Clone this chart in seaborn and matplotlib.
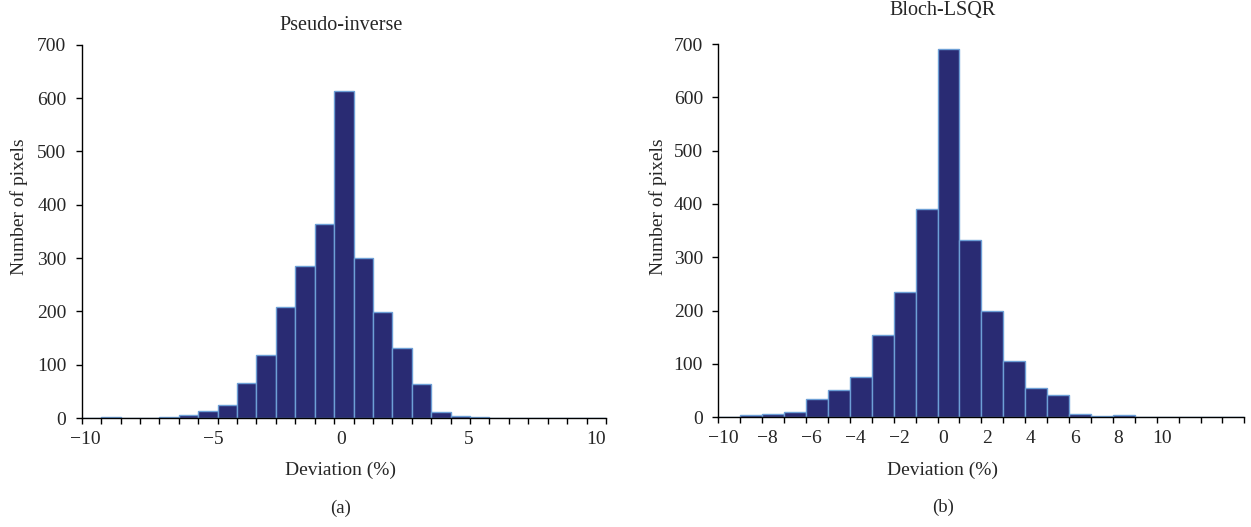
import numpy as np
import pandas as pd
import seaborn as sns
import matplotlib.pyplot as plt
from matplotlib.ticker import FixedLocator, NullFormatter

# histogram counts
# (a) Pseudo-inverse: 27 equal bins spanning the axis
pinv_range = (-10.14, 10.38)
pinv_counts = [0, 1, 0, 0, 2, 5, 13, 25, 66, 118, 209, 286, 363, 613,
               300, 198, 132, 63, 12, 4, 2, 0, 0, 0, 0, 0, 0]
pinv_ticks = [-10, -5, 0, 5, 10]

# (b) Bloch-LSQR: 24 bins of width 1
lsqr_range = (-10.25, 13.75)
lsqr_counts = [0, 4, 6, 9, 34, 51, 76, 154, 234, 390, 690, 332, 199, 105,
               55, 41, 6, 2, 4, 1, 0, 0, 0, 0]
lsqr_ticks = [-10, -8, -6, -4, -2, 0, 2, 4, 6, 8, 10]

yticks = [0, 100, 200, 300, 400, 500, 600, 700]

FILL = "#292b73"
EDGE = "#6d9fd6"
FS = 14

sns.set_style("white")
plt.rcParams["font.family"] = ["Liberation Serif", "DejaVu Serif"]
plt.rcParams["font.size"] = FS


def draw(ax, counts, xrange_, ticks, title, title_dy, caption):
    edges = np.linspace(xrange_[0], xrange_[1], len(counts) + 1)
    df = pd.DataFrame({"x": (edges[:-1] + edges[1:]) / 2, "n": counts})
    sns.histplot(data=df, x="x", weights="n", bins=list(edges), ax=ax,
                 color=FILL, edgecolor=EDGE, linewidth=1.0, alpha=1)
    ax.set_xlim(*xrange_)
    ax.set_ylim(0, 700)
    ax.set_yticks(yticks)
    ax.set_xticks(ticks)
    ax.set_xticklabels([("\u2212" + str(-t)) if t < 0 else str(t) for t in ticks])
    ax.xaxis.set_minor_locator(FixedLocator(edges))
    ax.xaxis.set_minor_formatter(NullFormatter())
    ax.tick_params(axis="x", which="major", length=0, pad=9, labelsize=FS)
    ax.tick_params(axis="x", which="minor", length=4, width=1, color="black",
                   direction="out", bottom=True)
    ax.tick_params(axis="y", which="major", length=4, width=1, color="black",
                   direction="out", left=True, pad=7, labelsize=FS)
    for s in ["top", "right"]:
        ax.spines[s].set_visible(False)
    for s in ["left", "bottom"]:
        ax.spines[s].set_color("black")
        ax.spines[s].set_linewidth(1.0)
    ax.set_ylabel("Number of pixels", fontsize=FS)
    ax.set_xlabel("")
    ax.annotate(title, xy=(0, 700), xycoords="data", xytext=(0, title_dy),
                textcoords="offset points", ha="center", va="center",
                fontsize=FS + 0.5, annotation_clip=False)
    ax.annotate("Deviation (%)", xy=(0, 0), xycoords="data", xytext=(0, -38),
                textcoords="offset points", ha="center", va="center",
                fontsize=FS, annotation_clip=False)
    ax.annotate(caption, xy=(0, 0), xycoords="data", xytext=(0, -65),
                textcoords="offset points", ha="center", va="center",
                fontsize=FS - 0.5, annotation_clip=False)


fig = plt.figure(figsize=(12.51, 5.27), dpi=100)
ax1 = fig.add_axes([0.0653, 0.2068, 0.4191, 0.7083])
ax2 = fig.add_axes([0.5742, 0.2082, 0.4205, 0.7083])

draw(ax1, pinv_counts, pinv_range, pinv_ticks, "Pseudo-inverse", 14, "(a)")
draw(ax2, lsqr_counts, lsqr_range, lsqr_ticks, "Bloch-LSQR", 24, "(b)")

ax1.yaxis.set_label_coords(-0.102, 0.565)
ax2.yaxis.set_label_coords(-0.0975, 0.565)

fig.savefig("out.png", dpi=100)
